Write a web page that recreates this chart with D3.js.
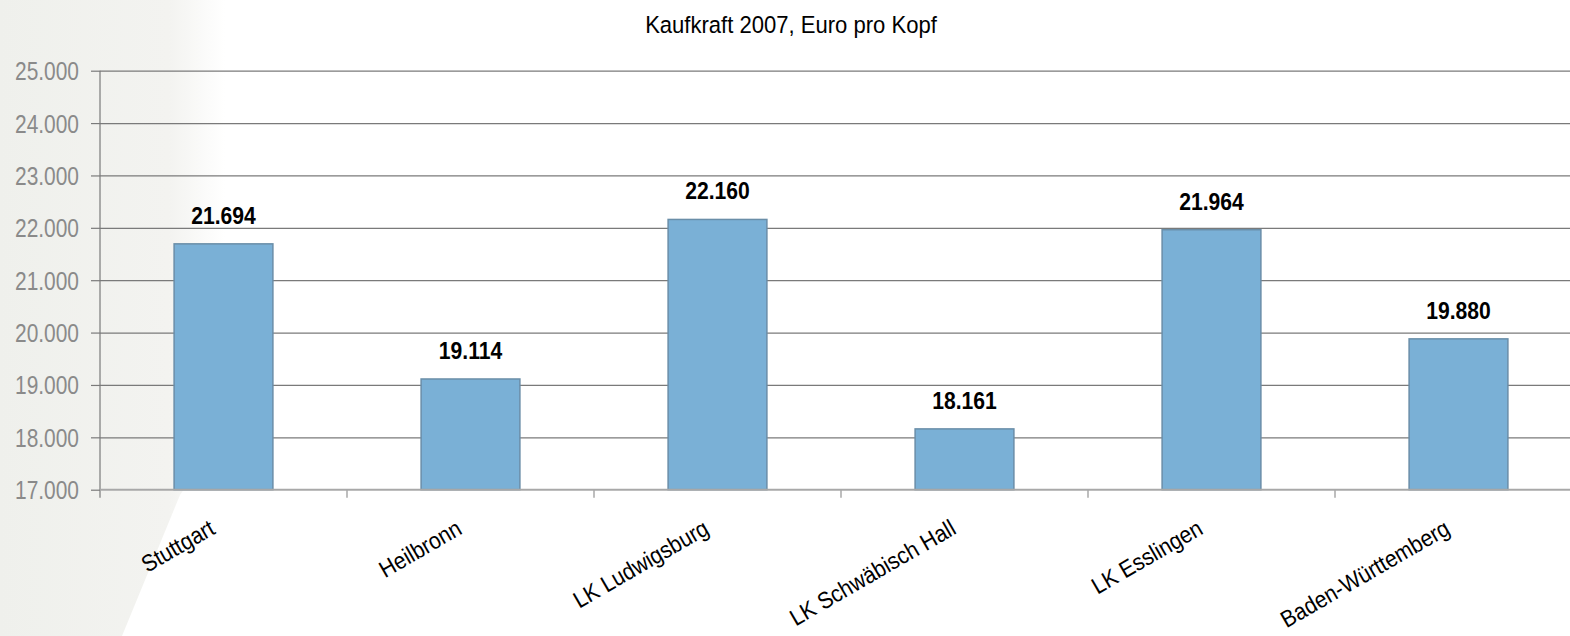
<!DOCTYPE html>
<html>
<head>
<meta charset="utf-8">
<script src="https://cdn.jsdelivr.net/npm/d3@7"></script>
<style>
  body { margin: 0; background: #fff; }
  svg { display: block; font-family: "Liberation Sans", Arial, sans-serif; }
</style>
</head>
<body>
<div class="canvas"></div>
<script>
const categories = ["Stuttgart", "Heilbronn", "LK Ludwigsburg", "LK Schwäbisch Hall", "LK Esslingen", "Baden-Württemberg"];
const values = [21694, 19114, 22160, 18161, 21964, 19880];
const yTicks = [17000, 18000, 19000, 20000, 21000, 22000, 23000, 24000, 25000];
const title = "Kaufkraft 2007, Euro pro Kopf";

const width = 1570;
const height = 636;
const marginLeft = 100;
const plotRight = 1582;
const yTop = 70.7;
const yBottom = 489.7;

const de = d3.formatLocale({decimal: ",", thousands: ".", grouping: [3], currency: ["", " €"]});
const fmt = de.format(",");

const x = d3.scaleBand()
  .domain(categories)
  .range([marginLeft, plotRight])
  .paddingInner(0.6)
  .paddingOuter(0.3);

const y = d3.scaleLinear()
  .domain([17000, 25000])
  .range([yBottom, yTop]);

const svg = d3.select(".canvas").append("svg")
  .attr("width", width)
  .attr("height", height);

// squeeze text horizontally, the original looks narrow
function squeeze(sel, k) {
  sel.each(function() {
    const w = this.getComputedTextLength();
    d3.select(this).attr("textLength", w * k).attr("lengthAdjust", "spacingAndGlyphs");
  });
}

// light grey backdrop on the left
const defs = svg.append("defs");
const grad = defs.append("linearGradient").attr("id", "bg").attr("x1", 0).attr("x2", 1);
grad.append("stop").attr("offset", "0").attr("stop-color", "#eff0ec");
grad.append("stop").attr("offset", "0.75").attr("stop-color", "#f3f3f0");
grad.append("stop").attr("offset", "1").attr("stop-color", "#ffffff");
svg.append("path")
  .attr("d", "M0,0 L225,0 L225,430 L180,495 L122,636 L0,636 Z")
  .attr("fill", "url(#bg)");

// grid
svg.append("g")
  .attr("transform", `translate(${marginLeft},0)`)
  .call(d3.axisLeft(y).tickValues(yTicks.filter(d => d > 17000)).tickSize(-(width - marginLeft)).tickFormat(""))
  .call(g => g.select(".domain").remove())
  .call(g => g.selectAll("line").attr("stroke", "#7a7a7a").attr("stroke-width", 1.2));

// y axis ticks + labels
const gy = svg.append("g")
  .attr("transform", `translate(${marginLeft},0)`)
  .call(d3.axisLeft(y).tickValues(yTicks).tickSize(9).tickPadding(12).tickFormat(fmt))
  .call(g => g.select(".domain").remove())
  .call(g => g.selectAll("line").attr("stroke", "#7a7a7a").attr("stroke-width", 1.2));
gy.selectAll("text")
  .attr("fill", "#8a8a8a")
  .attr("font-size", 25.5)
  .attr("font-family", "'Liberation Sans', Arial, sans-serif")
  .attr("dy", "0.35em")
  .call(squeeze, 0.82);

// y axis line
svg.append("line")
  .attr("x1", marginLeft).attr("x2", marginLeft)
  .attr("y1", yTop).attr("y2", yBottom + 8)
  .attr("stroke", "#7a7a7a").attr("stroke-width", 1.2);

// bars
svg.selectAll("rect.bar")
  .data(values)
  .join("rect")
    .attr("class", "bar")
    .attr("x", (d, i) => x(categories[i]))
    .attr("y", d => y(d))
    .attr("width", x.bandwidth())
    .attr("height", d => yBottom - y(d))
    .attr("fill", "#7ab0d6")
    .attr("stroke", "#6a8ea8")
    .attr("stroke-width", 1.5);

// bottom axis
svg.append("line")
  .attr("x1", marginLeft).attr("x2", width)
  .attr("y1", yBottom).attr("y2", yBottom)
  .attr("stroke", "#a8a8a8").attr("stroke-width", 2);

const bounds = categories.map(c => x(c) - x.step() * x.paddingOuter()).filter(v => v > marginLeft);
svg.selectAll("line.xtick")
  .data(bounds)
  .join("line")
    .attr("class", "xtick")
    .attr("x1", d => d).attr("x2", d => d)
    .attr("y1", yBottom).attr("y2", yBottom + 8)
    .attr("stroke", "#a8a8a8").attr("stroke-width", 1.5);

// value labels
svg.selectAll("text.val")
  .data(values)
  .join("text")
    .attr("class", "val")
    .attr("x", (d, i) => x(categories[i]) + x.bandwidth() / 2)
    .attr("y", d => y(d) - 20)
    .attr("text-anchor", "middle")
    .attr("font-size", 24)
    .attr("font-weight", "bold")
    .attr("fill", "#000")
    .text(d => fmt(d))
    .call(squeeze, 0.88);

// category labels
svg.selectAll("text.cat")
  .data(categories)
  .join("text")
    .attr("class", "cat")
    .attr("text-anchor", "end")
    .attr("transform", d => `translate(${x(d) + x.bandwidth() / 2 - 7},533) rotate(-30)`)
    .attr("font-size", 23.5)
    .attr("fill", "#000")
    .text(d => d)
    .call(squeeze, 0.9);

// title
svg.append("text")
  .attr("x", 791)
  .attr("y", 33)
  .attr("text-anchor", "middle")
  .attr("font-size", 24.5)
  .attr("fill", "#000")
  .text(title)
  .call(squeeze, 0.9);
</script>
</body>
</html>
